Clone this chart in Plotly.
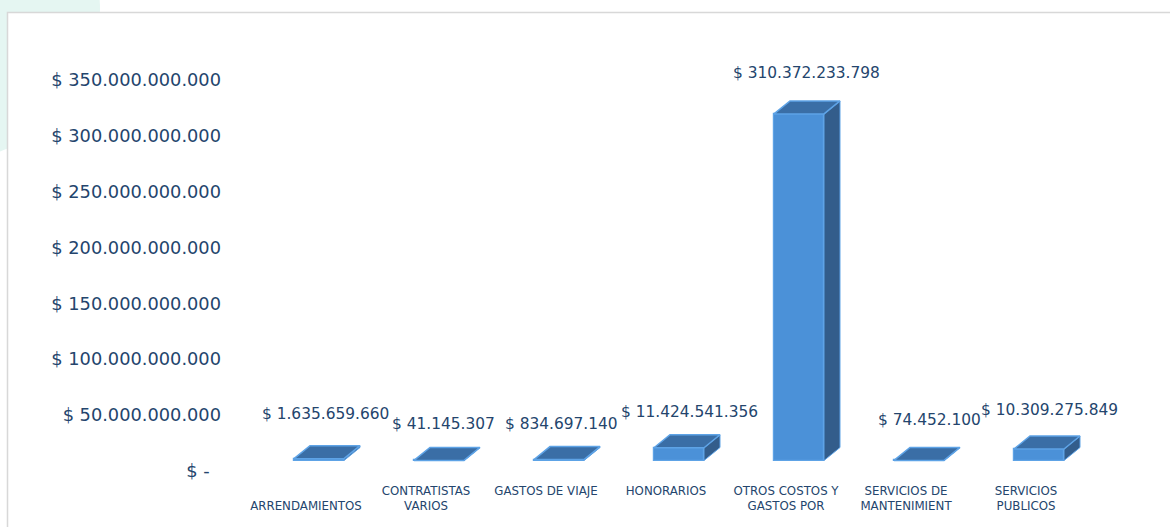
import plotly.graph_objects as go

# ---- data -------------------------------------------------------------
categories = [
    "<br>ARRENDAMIENTOS",
    "CONTRATISTAS<br>VARIOS",
    "GASTOS DE VIAJE",
    "HONORARIOS",
    "OTROS COSTOS Y<br>GASTOS POR",
    "SERVICIOS DE<br>MANTENIMIENT",
    "SERVICIOS<br>PUBLICOS",
]
values = [
    1635659660,
    41145307,
    834697140,
    11424541356,
    310372233798,
    74452100,
    10309275849,
]
value_labels = [
    "$ 1.635.659.660",
    "$ 41.145.307",
    "$ 834.697.140",
    "$ 11.424.541.356",
    "$ 310.372.233.798",
    "$ 74.452.100",
    "$ 10.309.275.849",
]
tick_values = [0, 50e9, 100e9, 150e9, 200e9, 250e9, 300e9, 350e9]
tick_labels = [
    "$ -\u00a0\u00a0",
    "$ 50.000.000.000",
    "$ 100.000.000.000",
    "$ 150.000.000.000",
    "$ 200.000.000.000",
    "$ 250.000.000.000",
    "$ 300.000.000.000",
    "$ 350.000.000.000",
]

# ---- layout geometry (pixels) ----------------------------------------
W, H = 1170, 527
L, R, T, B = 230, 10, 30, 49
plot_w, plot_h = W - L - R, H - T - B
first_center_px = 306          # pixel x of first category
cat_px = 120                   # pixels per category
px_per_unit = 55.83 / 50e9     # vertical scale
axis_zero_px = 470.8           # where the value axis reads 0
floor_px = 460.5               # front edge of the bar floor
depth_dx_px, depth_dy_px = 16, 13

x_lo = (L - first_center_px) / cat_px
x_hi = (W - R - first_center_px) / cat_px
bottom_px = T + plot_h
y1_lo = -(bottom_px - axis_zero_px) / px_per_unit
y1_hi = y1_lo + plot_h / px_per_unit
y2_lo = -(bottom_px - floor_px) / px_per_unit
y2_hi = y2_lo + plot_h / px_per_unit

dxu = depth_dx_px / cat_px
dyu = depth_dy_px / px_per_unit
bar_w = 50 / cat_px
bar_off = -12 / cat_px

front_col = "#4b91d8"
top_col = "#3a6ea6"
side_col = "#335d8b"
edge_col = "#5ea3e6"
text_col = "#24456d"
font_family = "DejaVu Sans"

# label nudges (pixels) to keep neighbouring labels apart
label_dy = [9, 0, 0, 0, 5, 4, 3]
label_dx = [-2, -4, -6, 2, -1, 2, 2]

xs = list(range(len(categories)))

fig = go.Figure()

# front faces
fig.add_trace(go.Bar(
    x=xs, y=values, width=bar_w, offset=bar_off,
    marker=dict(color=front_col, line=dict(color=edge_col, width=1.2)),
    xaxis="x", yaxis="y2", showlegend=False, hoverinfo="skip",
))

# side and top faces of each bar
for i, v in enumerate(values):
    x0 = i + bar_off
    x1 = x0 + bar_w
    fig.add_trace(go.Scatter(
        x=[x1, x1, x1 + dxu, x1 + dxu, x1],
        y=[0, v, v + dyu, dyu, 0],
        fill="toself", fillcolor=side_col, mode="lines",
        line=dict(color=edge_col, width=1),
        xaxis="x", yaxis="y2", showlegend=False, hoverinfo="skip",
    ))
    fig.add_trace(go.Scatter(
        x=[x0, x1, x1 + dxu, x0 + dxu, x0],
        y=[v, v, v + dyu, v + dyu, v],
        fill="toself", fillcolor=top_col, mode="lines",
        line=dict(color=edge_col, width=1.5),
        xaxis="x", yaxis="y2", showlegend=False, hoverinfo="skip",
    ))

# invisible trace to carry the value axis
fig.add_trace(go.Scatter(x=[0], y=[0], mode="markers", marker=dict(opacity=0),
                         xaxis="x", yaxis="y", showlegend=False, hoverinfo="skip"))

annotations = []
for i, (v, lab) in enumerate(zip(values, value_labels)):
    annotations.append(dict(
        x=i + bar_off + bar_w / 2 + dxu / 2, y=v + dyu,
        xref="x", yref="y2", text=lab, showarrow=False,
        yanchor="bottom", xanchor="center",
        yshift=12 + label_dy[i], xshift=label_dx[i],
        font=dict(family=font_family, size=15.4, color=text_col),
    ))

def px_to_paper_x(px):
    return (px - L) / plot_w

def px_to_paper_y(py):
    return (H - B - py) / plot_h

shapes = [
    # soft mint decoration in the page corner
    dict(type="circle", xref="paper", yref="paper", layer="below",
         x0=px_to_paper_x(-200), x1=px_to_paper_x(100),
         y0=px_to_paper_y(160), y1=px_to_paper_y(-140),
         fillcolor="#e5f6f2", line=dict(width=0)),
    # chart card
    dict(type="rect", xref="paper", yref="paper", layer="below",
         x0=px_to_paper_x(7.5), x1=px_to_paper_x(W + 20),
         y0=px_to_paper_y(H + 20), y1=px_to_paper_y(12.5),
         fillcolor="white", line=dict(color="#d8d8d8", width=1.5)),
]

fig.update_layout(
    width=W, height=H,
    margin=dict(l=L, r=R, t=T, b=B, pad=0),
    paper_bgcolor="white", plot_bgcolor="rgba(0,0,0,0)",
    font=dict(family=font_family, color=text_col),
    xaxis=dict(
        range=[x_lo, x_hi], tickmode="array", tickvals=xs, ticktext=categories,
        showgrid=False, zeroline=False, showline=False, ticks="",
        tickfont=dict(family=font_family, size=11.8, color=text_col),
        ticklabelstandoff=4,
    ),
    yaxis=dict(
        range=[y1_lo, y1_hi], tickmode="array", tickvals=tick_values,
        ticktext=tick_labels, showgrid=False, zeroline=False, showline=False,
        ticks="", tickfont=dict(family=font_family, size=17.8, color=text_col),
        ticklabelstandoff=8,
    ),
    yaxis2=dict(
        range=[y2_lo, y2_hi], overlaying="y", visible=False,
    ),
    annotations=annotations,
    shapes=shapes,
    bargap=0,
)

fig.write_html("out.html")
